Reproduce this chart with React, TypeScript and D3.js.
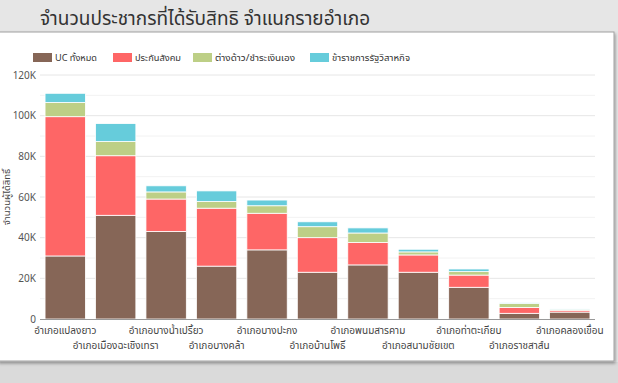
import React from "react";
import * as d3 from "d3";

const districts = [
  "อำเภอแปลงยาว",
  "อำเภอเมืองฉะเชิงเทรา",
  "อำเภอบางน้ำเปรี้ยว",
  "อำเภอบางคล้า",
  "อำเภอบางปะกง",
  "อำเภอบ้านโพธิ์",
  "อำเภอพนมสารคาม",
  "อำเภอสนามชัยเขต",
  "อำเภอท่าตะเกียบ",
  "อำเภอราชสาส์น",
  "อำเภอคลองเขื่อน",
];
const seriesNames = ["UC ทั้งหมด", "ประกันสังคม", "ต่างด้าว/ชำระเงินเอง", "ข้าราชการรัฐวิสาหกิจ"];
const ucAll = [31000, 51000, 43000, 26000, 34000, 23000, 26600, 23000, 15600, 2800, 3400];
const socialSecurity = [68500, 29300, 16000, 28500, 18000, 17000, 11000, 8500, 6000, 2900, 900];
const alienSelfPay = [7000, 7000, 3500, 3300, 3700, 5400, 4700, 1500, 1700, 2000, 500];
const civilServant = [4500, 8800, 3000, 5200, 2800, 2400, 2500, 1300, 1300, 400, 400];
const yTicks = [0, 20000, 40000, 60000, 80000, 100000, 120000];
const colors = ["#866657", "#fe6666", "#bdcf86", "#66ccdb"];

const W = 618, H = 383;
const FONT = "'Noto Sans', 'Noto Sans Thai', Tahoma, sans-serif";

export default function App() {
  const x = d3.scaleBand().domain(districts).range([40, 595]).paddingInner(0.2).paddingOuter(0.1);
  const y = d3.scaleLinear().domain([0, 120000]).range([319, 75]);
  const rows = districts.map((d, i) => ({
    d,
    s0: ucAll[i],
    s1: socialSecurity[i],
    s2: alienSelfPay[i],
    s3: civilServant[i],
  }));
  const stack = d3.stack<any>().keys(["s0", "s1", "s2", "s3"])(rows);
  const minor = d3.range(10000, 120000, 20000);
  const legendX = [33, 113, 193, 310];
  const legendW = [42, 46, 80, 78];

  return (
    <div style={{ position: "fixed", left: 0, top: 0, width: W, height: H }}>
      <svg width={W} height={H} style={{ display: "block", fontFamily: FONT }}>
        <defs>
          <filter id="sh" x="-5%" y="-5%" width="110%" height="115%">
            <feDropShadow dx="1" dy="2" stdDeviation="1.5" floodColor="#000" floodOpacity="0.35" />
          </filter>
        </defs>
        <rect x={0} y={0} width={W} height={H} fill="#e6e6e6" />
        <rect x={0} y={362} width={W} height={H - 362} fill="#dadada" />
        <text x={40} y={25} fontSize={19} fill="#333">
          จำนวนประชากรที่ได้รับสิทธิ จำแนกรายอำเภอ
        </text>
        <rect x={-2} y={32} width={616} height={329} fill="#fff" stroke="#a0a0a0" strokeWidth={1} filter="url(#sh)" />
        {/* legend */}
        {seriesNames.map((n, i) => (
          <g key={n}>
            <rect x={legendX[i]} y={53} width={19} height={9} fill={colors[i]} />
            <text
              x={legendX[i] + 22}
              y={61}
              fontSize={9.5}
              fill="#333"
              textLength={legendW[i]}
              lengthAdjust="spacingAndGlyphs"
            >
              {n}
            </text>
          </g>
        ))}
        {/* grid */}
        {minor.map((t) => (
          <line key={"m" + t} x1={40} x2={595} y1={y(t)} y2={y(t)} stroke="#f2f2f2" />
        ))}
        {yTicks.map((t) => (
          <g key={t}>
            {t > 0 && <line x1={40} x2={595} y1={y(t)} y2={y(t)} stroke="#e6e6e6" />}
            <text x={36} y={y(t) + 3.5} fontSize={10} fill="#555" textAnchor="end">
              {t === 0 ? "0" : d3.format("d")(t / 1000) + "K"}
            </text>
          </g>
        ))}
        <text
          transform={`translate(10,${y(60000)}) rotate(-90)`}
          fontSize={9.5}
          fill="#444"
          textAnchor="middle"
        >
          จำนวนผู้ได้สิทธิ์
        </text>
        {/* bars */}
        {stack.map((layer, li) =>
          layer.map((seg, i) => (
            <rect
              key={li + "-" + i}
              x={x(districts[i])}
              width={x.bandwidth()}
              y={y(seg[1])}
              height={Math.max(0, y(seg[0]) - y(seg[1]))}
              fill={colors[li]}
              stroke="#fff"
              strokeWidth={0.8}
            />
          ))
        )}
        <line x1={40} x2={595} y1={319.5} y2={319.5} stroke="#999" />
        {districts.map((d, i) => (
          <text
            key={d}
            x={(x(d) as number) + x.bandwidth() / 2}
            y={i % 2 === 0 ? 334 : 349}
            fontSize={10}
            fill="#444"
            textAnchor="middle"
          >
            {d}
          </text>
        ))}
      </svg>
    </div>
  );
}
